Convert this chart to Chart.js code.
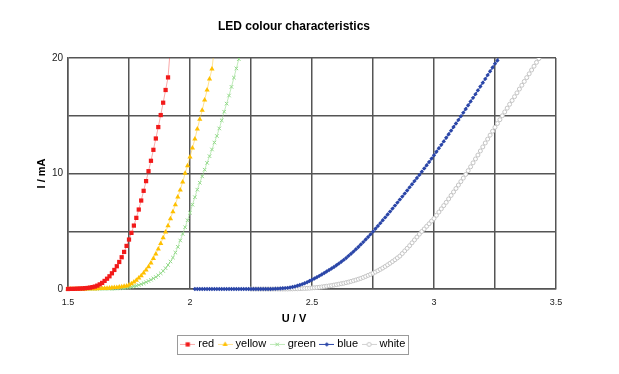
<!DOCTYPE html>
<html>
<head>
<meta charset="utf-8">
<script src="https://cdn.jsdelivr.net/npm/chart.js@4/dist/chart.umd.min.js"></script>
<style>
  html, body { margin: 0; padding: 0; background: #fff; }
  #wrap { width: 619px; height: 374px; }
</style>
</head>
<body>
<div id="wrap"><canvas id="led" width="619" height="374"></canvas></div>
<script>
// Messpunkte alle 10 mV (U in V)
const voltages = [
  1.50, 1.51, 1.52, 1.53, 1.54, 1.55, 1.56, 1.57, 1.58, 1.59,
  1.60, 1.61, 1.62, 1.63, 1.64, 1.65, 1.66, 1.67, 1.68, 1.69,
  1.70, 1.71, 1.72, 1.73, 1.74, 1.75, 1.76, 1.77, 1.78, 1.79,
  1.80, 1.81, 1.82, 1.83, 1.84, 1.85, 1.86, 1.87, 1.88, 1.89,
  1.90, 1.91, 1.92, 1.93, 1.94, 1.95, 1.96, 1.97, 1.98, 1.99,
  2.00, 2.01, 2.02, 2.03, 2.04, 2.05, 2.06, 2.07, 2.08, 2.09,
  2.10, 2.11, 2.12, 2.13, 2.14, 2.15, 2.16, 2.17, 2.18, 2.19,
  2.20, 2.21, 2.22, 2.23, 2.24, 2.25, 2.26, 2.27, 2.28, 2.29,
  2.30, 2.31, 2.32, 2.33, 2.34, 2.35, 2.36, 2.37, 2.38, 2.39,
  2.40, 2.41, 2.42, 2.43, 2.44, 2.45, 2.46, 2.47, 2.48, 2.49,
  2.50, 2.51, 2.52, 2.53, 2.54, 2.55, 2.56, 2.57, 2.58, 2.59,
  2.60, 2.61, 2.62, 2.63, 2.64, 2.65, 2.66, 2.67, 2.68, 2.69,
  2.70, 2.71, 2.72, 2.73, 2.74, 2.75, 2.76, 2.77, 2.78, 2.79,
  2.80, 2.81, 2.82, 2.83, 2.84, 2.85, 2.86, 2.87, 2.88, 2.89,
  2.90, 2.91, 2.92, 2.93, 2.94, 2.95, 2.96, 2.97, 2.98, 2.99,
  3.00, 3.01, 3.02, 3.03, 3.04, 3.05, 3.06, 3.07, 3.08, 3.09,
  3.10, 3.11, 3.12, 3.13, 3.14, 3.15, 3.16, 3.17, 3.18, 3.19,
  3.20, 3.21, 3.22, 3.23, 3.24, 3.25, 3.26, 3.27, 3.28, 3.29,
  3.30, 3.31, 3.32, 3.33, 3.34, 3.35, 3.36, 3.37, 3.38, 3.39,
  3.40, 3.41, 3.42, 3.43, 3.44
];

// Strom in mA, jeweils ab der ersten Spannung der Reihe
const redFrom = 1.50;
const redI = [
  0.00, 0.01, 0.01, 0.02, 0.03, 0.04, 0.05, 0.07, 0.09, 0.12,
  0.16, 0.21, 0.29, 0.40, 0.53, 0.70, 0.89, 1.10, 1.36, 1.65,
  1.97, 2.34, 2.75, 3.21, 3.73, 4.28, 4.86, 5.49, 6.16, 6.88,
  7.66, 8.50, 9.34, 10.20, 11.10, 12.05, 13.03, 14.02, 15.06, 16.13,
  17.23, 18.32, 21.0
];

const yellowFrom = 1.50;
const yellowI = [
  0.00, 0.00, 0.00, 0.00, 0.01, 0.01, 0.01, 0.01, 0.02, 0.02,
  0.02, 0.03, 0.03, 0.04, 0.05, 0.06, 0.07, 0.08, 0.10, 0.12,
  0.14, 0.17, 0.20, 0.23, 0.27, 0.35, 0.46, 0.60, 0.76, 0.95,
  1.15, 1.39, 1.64, 1.93, 2.25, 2.63, 3.03, 3.46, 3.95, 4.44,
  4.94, 5.48, 6.09, 6.69, 7.30, 7.97, 8.57, 9.26, 10.02, 10.68,
  11.43, 12.21, 12.99, 13.85, 14.69, 15.47, 16.36, 17.23, 18.18, 19.05,
  20.9
];

const greenFrom = 1.50;
const greenI = [
  0.00, 0.00, 0.00, 0.00, 0.00, 0.01, 0.01, 0.01, 0.01, 0.01,
  0.01, 0.01, 0.02, 0.02, 0.02, 0.02, 0.03, 0.03, 0.03, 0.04,
  0.04, 0.05, 0.07, 0.09, 0.11, 0.14, 0.18, 0.23, 0.28, 0.34,
  0.42, 0.50, 0.59, 0.69, 0.80, 0.92, 1.04, 1.18, 1.36, 1.56,
  1.80, 2.08, 2.38, 2.72, 3.15, 3.65, 4.20, 4.77, 5.35, 5.95,
  6.60, 7.30, 7.95, 8.60, 9.20, 9.75, 10.33, 10.92, 11.50, 12.08,
  12.68, 13.25, 13.90, 14.60, 15.35, 16.05, 16.75, 17.50, 18.30, 19.10,
  19.90, 20.70
];

const blueFrom = 2.02;
const blueI = [
  0, 0, 0, 0, 0, 0, 0, 0,
  0, 0, 0, 0, 0, 0, 0, 0, 0, 0,
  0, 0, 0, 0, 0, 0, 0, 0, 0, 0,
  0.00, 0.00, 0.00, 0.00, 0.01, 0.02, 0.03, 0.04, 0.06, 0.08,
  0.10, 0.13, 0.17, 0.22, 0.28, 0.35, 0.42, 0.50, 0.59, 0.69,
  0.80, 0.91, 1.02, 1.14, 1.26, 1.39, 1.52, 1.65, 1.78, 1.91,
  2.05, 2.20, 2.36, 2.52, 2.69, 2.87, 3.05, 3.24, 3.44, 3.64,
  3.85, 4.06, 4.28, 4.50, 4.73, 4.97, 5.21, 5.45, 5.70, 5.95,
  6.20, 6.45, 6.70, 6.96, 7.22, 7.48, 7.74, 8.00, 8.26, 8.53,
  8.80, 9.07, 9.34, 9.61, 9.88, 10.16, 10.44, 10.72, 11.00, 11.29,
  11.58, 11.88, 12.18, 12.48, 12.78, 13.09, 13.40, 13.71, 14.02, 14.33,
  14.64, 14.95, 15.27, 15.59, 15.91, 16.23, 16.55, 16.87, 17.20, 17.53,
  17.86, 18.19, 18.52, 18.85, 19.18, 19.51, 19.78, 20.6
];

const whiteFrom = 2.25;
const whiteI = [
  0, 0, 0, 0, 0,
  0, 0, 0, 0, 0, 0, 0, 0, 0, 0,
  0.00, 0.01, 0.01, 0.02, 0.02, 0.03, 0.04, 0.05, 0.06, 0.07,
  0.09, 0.11, 0.13, 0.15, 0.18, 0.21, 0.24, 0.27, 0.30, 0.34,
  0.38, 0.42, 0.46, 0.50, 0.55, 0.60, 0.66, 0.72, 0.78, 0.85,
  0.92, 1.00, 1.09, 1.18, 1.27, 1.36, 1.47, 1.58, 1.70, 1.82,
  1.95, 2.09, 2.23, 2.38, 2.53, 2.69, 2.85, 3.07, 3.30, 3.52,
  3.75, 4.00, 4.25, 4.50, 4.75, 4.98, 5.20, 5.43, 5.65, 5.88,
  6.10, 6.38, 6.66, 6.94, 7.22, 7.50, 7.80, 8.10, 8.40, 8.70,
  9.00, 9.30, 9.60, 9.92, 10.25, 10.58, 10.92, 11.26, 11.60, 11.95,
  12.30, 12.64, 12.98, 13.32, 13.66, 14.00, 14.33, 14.66, 15.00, 15.33,
  15.66, 15.99, 16.32, 16.65, 16.98, 17.31, 17.64, 17.97, 18.30, 18.63,
  18.96, 19.29, 19.62, 19.95, 20.28
];

const seriesLabels = ['red', 'yellow', 'green', 'blue', 'white'];
const xTickLabels = [1.5, 2, 2.5, 3, 3.5];
const yTickLabels = [0, 10, 20];

(function () {
  const FONT = 'Arial, "Liberation Sans", sans-serif';

  const STYLES = [
    { style: 'rect',     r: 3,   bw: 0, marker: '#f21a1a', bg: '#f21a1a', line: 'rgba(242,40,40,0.40)' },
    { style: 'triangle', r: 3,   bw: 0, marker: '#ffc000', bg: '#ffc000', line: 'rgba(255,200,40,0.50)' },
    { style: 'crossRot', r: 2.5, bw: 1, marker: '#93d98a', bg: '#93d98a', line: 'rgba(150,220,140,0.60)' },
    { style: 'rectRot',  r: 2.2, bw: 0, marker: '#2b46a8', bg: '#2b46a8', line: '#2b46a8' },
    { style: 'circle',   r: 2,   bw: 1, marker: '#c4c4c4', bg: '#ffffff', line: '#d2d2d2' }
  ];

  function points(from, values) {
    const i0 = voltages.indexOf(from);
    return values.map((v, k) => ({ x: voltages[i0 + k], y: v }));
  }

  const series = [
    points(redFrom, redI),
    points(yellowFrom, yellowI),
    points(greenFrom, greenI),
    points(blueFrom, blueI),
    points(whiteFrom, whiteI)
  ];

  // kleines Legendensymbol: Linie mit Marker in der Mitte
  function legendIcon(s) {
    const c = document.createElement('canvas');
    c.width = 15; c.height = 9;
    const ctx = c.getContext('2d');
    ctx.strokeStyle = s.line;
    ctx.lineWidth = 1;
    ctx.beginPath(); ctx.moveTo(0, 4.5); ctx.lineTo(15, 4.5); ctx.stroke();
    ctx.fillStyle = s.bg;
    ctx.strokeStyle = s.marker;
    ctx.lineWidth = s.bw || 1;
    Chart.helpers.drawPoint(ctx, { pointStyle: s.style, radius: s.r, borderWidth: s.bw, rotation: 0 }, 7.5, 4.5);
    return c;
  }
  const icons = STYLES.map(legendIcon);

  const legendFrame = {
    id: 'legendFrame',
    afterDraw(chart) {
      const boxes = chart.legend && chart.legend.legendHitBoxes;
      if (!boxes || !boxes.length) return;
      const first = boxes[0], last = boxes[boxes.length - 1];
      const ctx = chart.ctx;
      const left = Math.round(first.left - 6) + 0.5;
      const right = Math.round(last.left + last.width + 3) + 0.5;
      const top = Math.round(first.top - 4) + 0.5;
      const bottom = Math.round(first.top + first.height + 4) + 0.5;
      ctx.save();
      ctx.strokeStyle = '#9a9a9a';
      ctx.lineWidth = 1;
      ctx.strokeRect(left, top, right - left, bottom - top);
      ctx.restore();
    }
  };

  new Chart(document.getElementById('led'), {
    type: 'line',
    data: {
      datasets: series.map((data, i) => ({
        label: seriesLabels[i],
        data,
        borderColor: STYLES[i].line,
        borderWidth: 1,
        pointStyle: STYLES[i].style,
        pointRadius: STYLES[i].r,
        pointBorderWidth: STYLES[i].bw,
        pointBorderColor: STYLES[i].marker,
        pointBackgroundColor: STYLES[i].bg,
        tension: 0,
        fill: false,
        clip: { left: 4, right: 4, top: 0, bottom: 4 }
      }))
    },
    options: {
      responsive: false,
      animation: false,
      events: [],
      layout: { padding: { left: 32, right: 63, top: 0, bottom: 14.1 } },
      plugins: {
        title: {
          display: true,
          text: 'LED colour characteristics',
          color: '#000',
          font: { family: FONT, size: 12, weight: 'bold' },
          padding: { top: 19.8, bottom: 23.8 }
        },
        subtitle: {
          display: true,
          position: 'bottom',
          weight: 500,
          text: 'U / V',
          color: '#000',
          font: { family: FONT, size: 11, weight: 'bold' },
          padding: { top: 4, bottom: 7.4 }
        },
        legend: {
          position: 'bottom',
          labels: {
            usePointStyle: true,
            pointStyleWidth: 10,
            padding: 6,
            color: '#000',
            font: { family: FONT, size: 11 },
            generateLabels(chart) {
              const items = Chart.defaults.plugins.legend.labels.generateLabels(chart);
              items.forEach((it, i) => { it.pointStyle = icons[i]; });
              return items;
            }
          }
        },
        tooltip: { enabled: false }
      },
      scales: {
        x: {
          type: 'linear',
          min: 1.5,
          max: 3.5,
          afterFit: s => { s.height = 19.3; },
          ticks: {
            stepSize: 0.25,
            padding: 8.5,
            color: '#222',
            font: { family: FONT, size: 9 },
            maxRotation: 0,
            autoSkip: false,
            callback: v => (xTickLabels.includes(v) ? String(v) : '')
          },
          grid: { color: '#555', lineWidth: 1.5, drawTicks: false },
          border: { color: '#555', width: 1.5 }
        },
        y: {
          min: 0,
          max: 20,
          afterFit: s => { s.width = 36; },
          title: {
            display: true,
            text: 'I / mA',
            color: '#000',
            font: { family: FONT, size: 11, weight: 'bold' },
            padding: { top: 3, bottom: 0 }
          },
          ticks: {
            stepSize: 5,
            padding: 5,
            color: '#222',
            font: { family: FONT, size: 10 },
            autoSkip: false,
            callback: v => (yTickLabels.includes(v) ? String(v) : '')
          },
          grid: { color: '#555', lineWidth: 1.5, drawTicks: false },
          border: { color: '#555', width: 1.5 }
        }
      }
    },
    plugins: [legendFrame]
  });
})();
</script>
</body>
</html>
